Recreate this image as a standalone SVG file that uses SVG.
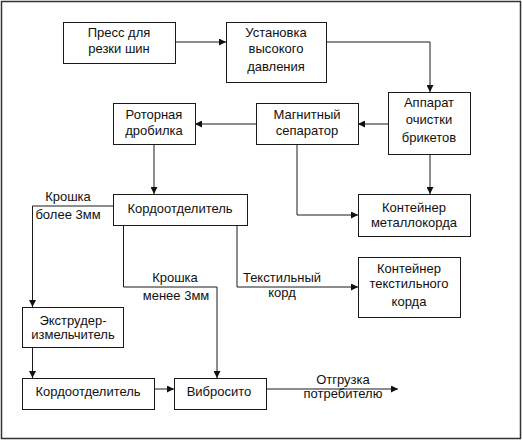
<svg xmlns="http://www.w3.org/2000/svg" width="523" height="441" viewBox="0 0 523 441">
<defs>
<style>
.box{fill:#fff;stroke:#1a1a1a;stroke-width:1}
.ln{fill:none;stroke:#1a1a1a;stroke-width:1}
text{font-family:"Liberation Sans",Arial,sans-serif;font-size:13px;fill:#111;text-anchor:middle}
</style>
<marker id="ah" markerUnits="userSpaceOnUse" markerWidth="7" markerHeight="7" refX="7" refY="3.5" orient="auto">
<path d="M0,0 L7,3.5 L0,7 z" fill="#111"/>
</marker>
</defs>
<rect x="0" y="0" width="523" height="441" fill="#fff"/>
<rect x="1.5" y="1.5" width="519" height="437" fill="none" stroke="#333" stroke-width="1.5"/>
<g id="connectors">
<path class="ln" d="M175,42 H226" marker-end="url(#ah)"/>
<path class="ln" d="M327,42 H430 V92" marker-end="url(#ah)"/>
<path class="ln" d="M388,124 H358" marker-end="url(#ah)"/>
<path class="ln" d="M256,124 H195" marker-end="url(#ah)"/>
<path class="ln" d="M154,144 V194" marker-end="url(#ah)"/>
<path class="ln" d="M297,144 V215 H358" marker-end="url(#ah)"/>
<path class="ln" d="M430,154 V194" marker-end="url(#ah)"/>
<path class="ln" d="M113,206 H32.5 V307" marker-end="url(#ah)"/>
<path class="ln" d="M123.5,225 V287 H217 V378" marker-end="url(#ah)"/>
<path class="ln" d="M237,225 V287 H358" marker-end="url(#ah)"/>
<path class="ln" d="M32.5,347 V378" marker-end="url(#ah)"/>
<path class="ln" d="M154,389 H174" marker-end="url(#ah)"/>
<path class="ln" d="M267,389 H398" marker-end="url(#ah)"/>
<text x="68" y="201">Крошка</text>
<text x="68" y="219">более 3мм</text>
<text x="175" y="282">Крошка</text>
<text x="176" y="300">менее 3мм</text>
<text x="282" y="282">Текстильный</text>
<text x="282" y="297">корд</text>
<text x="343" y="384">Отгрузка</text>
<text x="343" y="398">потребителю</text>
</g>
<g id="n1"><rect class="box" x="63.5" y="22.5" width="112" height="41"/><text x="119" y="37">Пресс для</text><text x="119" y="53">резки шин</text></g>
<g id="n2"><rect class="box" x="226.5" y="22.5" width="100" height="60"/><text x="276" y="37">Установка</text><text x="276" y="53">высокого</text><text x="276" y="71">давления</text></g>
<g id="n3"><rect class="box" x="388.5" y="92.5" width="82" height="62"/><text x="429" y="107">Аппарат</text><text x="429" y="124">очистки</text><text x="429" y="142">брикетов</text></g>
<g id="n4"><rect class="box" x="256.5" y="103.5" width="102" height="41"/><text x="307" y="119">Магнитный</text><text x="307" y="135">сепаратор</text></g>
<g id="n5"><rect class="box" x="113.5" y="103.5" width="82" height="41"/><text x="154" y="119">Роторная</text><text x="154" y="135">дробилка</text></g>
<g id="n6"><rect class="box" x="113.5" y="194.5" width="134" height="31"/><text x="180" y="213">Кордоотделитель</text></g>
<g id="n7"><rect class="box" x="358.5" y="194.5" width="112" height="42"/><text x="414" y="212">Контейнер</text><text x="414" y="227">металлокорда</text></g>
<g id="n8"><rect class="box" x="358.5" y="257.5" width="102" height="60"/><text x="409" y="273">Контейнер</text><text x="409" y="288">текстильного</text><text x="409" y="306">корда</text></g>
<g id="n9"><rect class="box" x="22.5" y="307.5" width="101" height="40"/><text x="73" y="325">Экструдер-</text><text x="73" y="339">измельчитель</text></g>
<g id="n10"><rect class="box" x="22.5" y="378.5" width="132" height="31"/><text x="88" y="396">Кордоотделитель</text></g>
<g id="n11"><rect class="box" x="174.5" y="378.5" width="92" height="31"/><text x="219" y="396">Вибросито</text></g>
</svg>
